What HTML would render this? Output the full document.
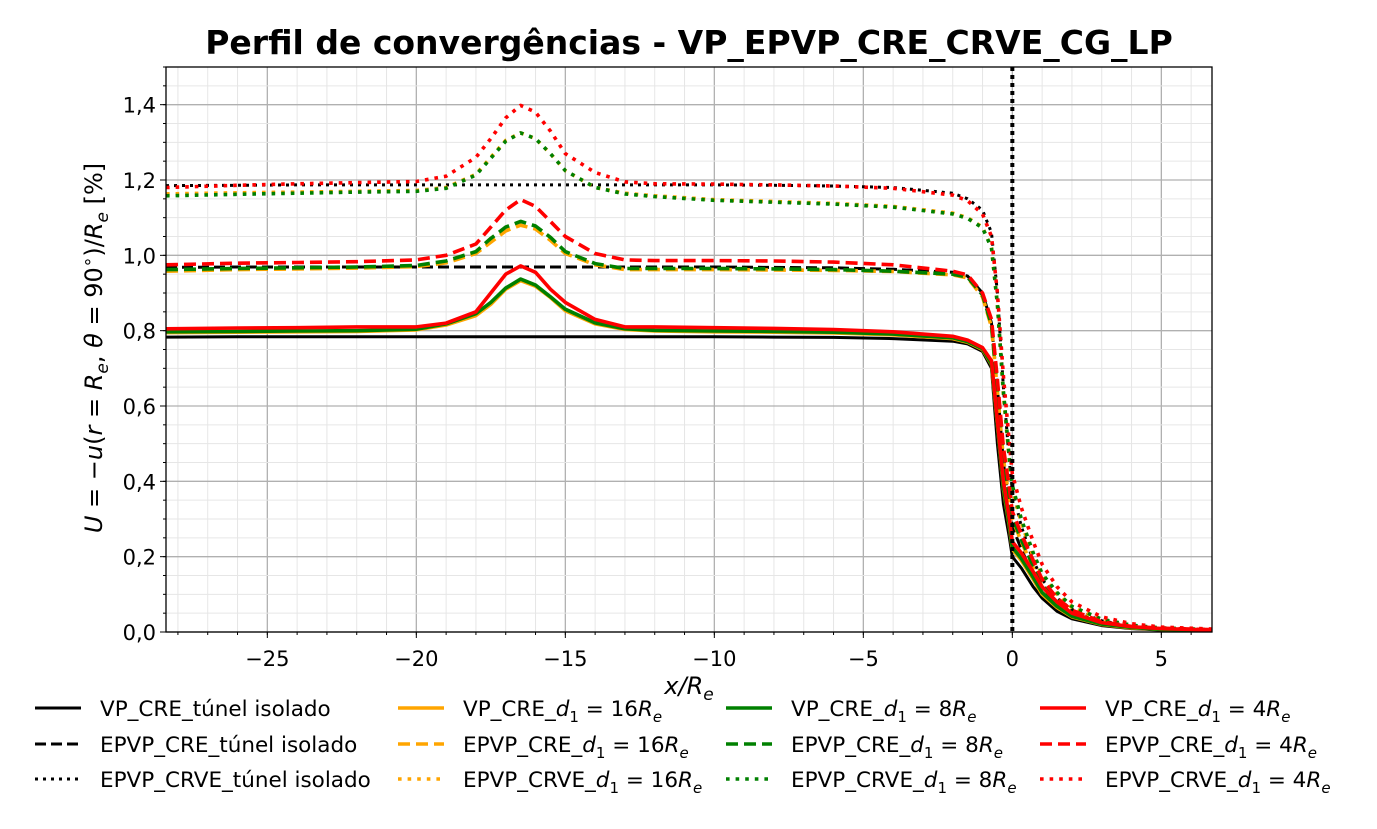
<!DOCTYPE html>
<html><head><meta charset="utf-8">
<style>
body{margin:0;background:#fff;}
svg{display:block;font-family:"DejaVu Sans","Liberation Sans",sans-serif;}
</style></head>
<body>
<svg id="chart" width="1377" height="829" viewBox="0 0 1377 829">
<text x="689" y="54" text-anchor="middle" font-size="33" font-weight="bold">Perfil de convergências - VP_EPVP_CRE_CRVE_CG_LP</text>
<g id="grid"></g>
<g id="series"></g>
<g id="axes"></g>
<g id="legend"></g>
</svg>
<script>
const xs=[-28.4,-26,-24,-22,-20,-19,-18,-17.5,-17,-16.5,-16,-15.5,-15,-14,-13,-12,-10,-8,-6,-4,-2,-1.5,-1,-0.7,-0.5,-0.3,-0.1,0,0.3,0.7,1,1.5,2,3,4,5,6.7];
const vpIso=[0.783,0.784,0.784,0.784,0.784,0.784,0.784,0.784,0.784,0.784,0.784,0.784,0.784,0.784,0.784,0.784,0.784,0.783,0.782,0.779,0.772,0.765,0.745,0.70,0.50,0.34,0.25,0.20,0.17,0.12,0.09,0.055,0.035,0.017,0.009,0.005,0.003];
const vp16=[0.795,0.796,0.797,0.798,0.802,0.815,0.84,0.87,0.91,0.933,0.918,0.888,0.853,0.818,0.803,0.799,0.797,0.796,0.794,0.789,0.779,0.769,0.75,0.71,0.55,0.38,0.28,0.22,0.19,0.14,0.10,0.065,0.04,0.02,0.011,0.007,0.004];
const vp8=[0.797,0.798,0.799,0.800,0.804,0.818,0.845,0.875,0.913,0.937,0.921,0.89,0.857,0.821,0.805,0.801,0.799,0.798,0.796,0.791,0.781,0.771,0.752,0.712,0.552,0.385,0.285,0.225,0.195,0.145,0.105,0.068,0.042,0.021,0.012,0.007,0.004];
const vp4=[0.805,0.807,0.808,0.81,0.81,0.82,0.85,0.90,0.95,0.972,0.955,0.91,0.875,0.83,0.81,0.81,0.808,0.806,0.803,0.797,0.785,0.775,0.755,0.72,0.56,0.40,0.30,0.24,0.21,0.16,0.12,0.08,0.05,0.025,0.014,0.009,0.005];
const epIso=[0.968,0.969,0.969,0.969,0.969,0.969,0.969,0.969,0.969,0.969,0.969,0.969,0.969,0.969,0.969,0.969,0.969,0.968,0.967,0.963,0.955,0.945,0.90,0.82,0.65,0.45,0.33,0.28,0.22,0.15,0.11,0.07,0.045,0.02,0.011,0.007,0.004];
const ep16=[0.958,0.962,0.964,0.966,0.97,0.98,1.005,1.035,1.065,1.08,1.07,1.04,1.005,0.975,0.962,0.962,0.962,0.961,0.96,0.957,0.948,0.94,0.89,0.81,0.64,0.46,0.35,0.30,0.24,0.17,0.12,0.08,0.05,0.022,0.012,0.008,0.005];
const ep8=[0.962,0.965,0.967,0.969,0.973,0.985,1.01,1.045,1.075,1.09,1.078,1.048,1.01,0.978,0.965,0.965,0.965,0.964,0.962,0.958,0.95,0.942,0.895,0.815,0.645,0.465,0.355,0.305,0.245,0.175,0.125,0.082,0.052,0.023,0.013,0.008,0.005];
const ep4=[0.975,0.979,0.981,0.983,0.988,1.0,1.03,1.075,1.12,1.148,1.13,1.09,1.05,1.005,0.988,0.986,0.986,0.985,0.982,0.975,0.958,0.948,0.90,0.83,0.67,0.49,0.38,0.32,0.26,0.19,0.14,0.09,0.058,0.027,0.015,0.01,0.006];
const crIso=[1.185,1.186,1.187,1.187,1.187,1.187,1.187,1.187,1.187,1.187,1.187,1.187,1.187,1.187,1.187,1.187,1.187,1.186,1.184,1.18,1.165,1.15,1.12,1.06,0.90,0.65,0.45,0.38,0.28,0.19,0.14,0.09,0.06,0.03,0.015,0.009,0.005];
const cr16=[1.163,1.166,1.168,1.17,1.172,1.18,1.215,1.26,1.305,1.325,1.31,1.27,1.225,1.18,1.165,1.158,1.148,1.143,1.138,1.13,1.112,1.10,1.075,1.02,0.87,0.63,0.45,0.38,0.29,0.20,0.15,0.10,0.065,0.032,0.017,0.01,0.006];
const cr8=[1.158,1.162,1.165,1.168,1.17,1.178,1.213,1.258,1.303,1.325,1.31,1.27,1.225,1.18,1.163,1.156,1.146,1.141,1.136,1.128,1.11,1.098,1.073,1.02,0.87,0.64,0.46,0.39,0.30,0.21,0.155,0.105,0.068,0.034,0.018,0.011,0.006];
const cr4=[1.18,1.186,1.19,1.193,1.196,1.21,1.26,1.31,1.365,1.398,1.38,1.33,1.27,1.22,1.195,1.19,1.189,1.187,1.184,1.178,1.16,1.145,1.11,1.05,0.90,0.68,0.50,0.42,0.33,0.24,0.18,0.12,0.08,0.04,0.022,0.013,0.008];
const xTicks=[-25,-20,-15,-10,-5,0,5];
const yTicks=[0,0.2,0.4,0.6,0.8,1.0,1.2,1.4];

const L=166,R=1212,T=67,B=632,X0=-28.4,X1=6.7,Y0=0,Y1=1.5;
const sx=v=>L+(v-X0)/(X1-X0)*(R-L);
const sy=v=>B-(v-Y0)/(Y1-Y0)*(B-T);
const NS='http://www.w3.org/2000/svg';
function mk(tag,attrs,parent){const e=document.createElementNS(NS,tag);for(const k in attrs)e.setAttribute(k,attrs[k]);parent.appendChild(e);return e;}
const grid=document.getElementById('grid'),axes=document.getElementById('axes'),ser=document.getElementById('series'),leg=document.getElementById('legend');
for(let v=-28;v<=6;v++){const g=mk('line',{x1:sx(v),x2:sx(v),y1:T,y2:B,stroke:v%5===0?'#b0b0b0':'#e6e6e6','stroke-width':v%5===0?1.3:1},grid);

}
for(let i=0;i<=30;i++){const v=i*0.05;const maj=i%4===0;const g=mk('line',{x1:L,x2:R,y1:sy(v),y2:sy(v),stroke:maj?'#b0b0b0':'#e6e6e6','stroke-width':maj?1.3:1},grid);

}
const series=[
{n:'vp-isolado',d:vpIso,c:'#000',da:'',w:3,lab:'VP_CRE_túnel isolado'},
{n:'ep-isolado',d:epIso,c:'#000',da:'11 5',w:3,lab:'EPVP_CRE_túnel isolado'},
{n:'cr-isolado',d:crIso,c:'#000',da:'3 5',w:3,lab:'EPVP_CRVE_túnel isolado'},
{n:'vp-d16',d:vp16,c:'#ffa500',da:'',w:3.6,lab:'VP_CRE_',sub:'16'},
{n:'ep-d16',d:ep16,c:'#ffa500',da:'12 6',w:3.6,lab:'EPVP_CRE_',sub:'16'},
{n:'cr-d16',d:cr16,c:'#ffa500',da:'3.6 6',w:3.6,lab:'EPVP_CRVE_',sub:'16'},
{n:'vp-d8',d:vp8,c:'#008000',da:'',w:3.6,lab:'VP_CRE_',sub:'8'},
{n:'ep-d8',d:ep8,c:'#008000',da:'12 6',w:3.6,lab:'EPVP_CRE_',sub:'8'},
{n:'cr-d8',d:cr8,c:'#008000',da:'3.6 6',w:3.6,lab:'EPVP_CRVE_',sub:'8'},
{n:'vp-d4',d:vp4,c:'#ff0000',da:'',w:3.6,lab:'VP_CRE_',sub:'4'},
{n:'ep-d4',d:ep4,c:'#ff0000',da:'12 6',w:3.6,lab:'EPVP_CRE_',sub:'4'},
{n:'cr-d4',d:cr4,c:'#ff0000',da:'3.6 6',w:3.6,lab:'EPVP_CRVE_',sub:'4'}];
const order=[2,5,8,11,1,4,7,10,0,3,6,9];
order.forEach(i=>{const s=series[i];const p=mk('path',{d:s.d.map((v,j)=>(j?'L':'M')+sx(xs[j]).toFixed(1)+','+sy(v).toFixed(1)).join(''),fill:'none',stroke:s.c,'stroke-width':s.w,'stroke-dasharray':s.da,'stroke-linejoin':'round'},ser);

});
const vl=mk('line',{x1:sx(0),x2:sx(0),y1:T,y2:B,stroke:'#000','stroke-width':4,'stroke-dasharray':'4 4'},ser);


const fr=mk('rect',{x:L,y:T,width:R-L,height:B-T,fill:'none',stroke:'#000','stroke-width':1.3},axes);


xTicks.forEach(v=>{mk('line',{x1:sx(v),x2:sx(v),y1:B,y2:B+6,stroke:'#000'},axes);
const t=mk('text',{x:sx(v),y:B+34,'text-anchor':'middle','font-size':21},axes);t.textContent=(v<0?'−':'')+Math.abs(v);

});
for(let v=-28;v<=6;v++)mk('line',{x1:sx(v),x2:sx(v),y1:B,y2:B+3,stroke:'#000'},axes);
yTicks.forEach(v=>{mk('line',{x1:L-6,x2:L,y1:sy(v),y2:sy(v),stroke:'#000'},axes);
const t=mk('text',{x:L-10,y:sy(v)+8,'text-anchor':'end','font-size':21},axes);t.textContent=v.toFixed(1).replace('.',',');

});
for(let i=0;i<=30;i++)mk('line',{x1:L-3,x2:L,y1:sy(i*0.05),y2:sy(i*0.05),stroke:'#000'},axes);
const xl=mk('text',{x:689,y:694,'text-anchor':'middle','font-size':24,'font-style':'italic'},axes);
xl.innerHTML='x/R<tspan font-size="17" dy="6">e</tspan>';


const yl=mk('text',{x:0,y:0,'text-anchor':'middle','font-size':24,transform:'translate(102,348) rotate(-90)'},axes);
yl.innerHTML='<tspan font-style="italic">U</tspan> = −<tspan font-style="italic">u</tspan>(<tspan font-style="italic">r</tspan> = <tspan font-style="italic">R<tspan font-size="17" dy="6">e</tspan></tspan><tspan dy="-6">, </tspan><tspan font-style="italic">θ</tspan> = 90<tspan font-size="17" dy="-9">∘</tspan><tspan dy="9">)/</tspan><tspan font-style="italic">R<tspan font-size="17" dy="6">e</tspan></tspan><tspan dy="-6"> [%]</tspan>';


const colX=[35,398,726,1040],rowY=[708,744,779];
series.forEach((s,i)=>{const c=Math.floor(i/3),r=i%3;const g=mk('g',{},leg);


mk('line',{x1:colX[c],x2:colX[c]+46,y1:rowY[r],y2:rowY[r],stroke:s.c,'stroke-width':s.w,'stroke-dasharray':s.da},g);
const t=mk('text',{x:colX[c]+65,y:rowY[r]+8,'font-size':21.5},g);
if(s.sub)t.innerHTML=s.lab+'<tspan font-style="italic">d</tspan><tspan font-size="15" dy="6">1</tspan><tspan dy="-6"> = '+s.sub+'</tspan><tspan font-style="italic">R</tspan><tspan font-size="15" dy="6" font-style="italic">e</tspan>';
else t.textContent=s.lab;});
</script>
</body></html>
